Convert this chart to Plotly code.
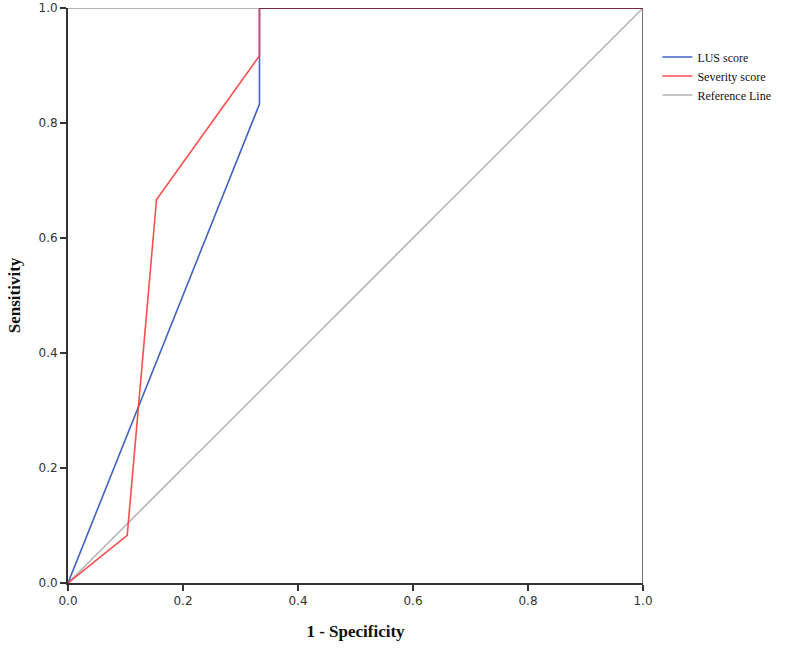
import plotly.graph_objects as go

# ROC curve data (1 - Specificity, Sensitivity)
lus_x = [0.0, 0.333, 0.333, 1.0]
lus_y = [0.0, 0.833, 1.0, 1.0]
sev_x = [0.0, 0.103, 0.154, 0.333, 0.333, 1.0]
sev_y = [0.0, 0.083, 0.667, 0.917, 1.0, 1.0]
ref_x = [0.0, 1.0]
ref_y = [0.0, 1.0]
tick_vals = [0.0, 0.2, 0.4, 0.6, 0.8, 1.0]
tick_text = ["0.0", "0.2", "0.4", "0.6", "0.8", "1.0"]

fig = go.Figure()
fig.add_trace(go.Scatter(x=ref_x, y=ref_y, mode="lines", name="Reference Line",
                         line=dict(color="#b0b0b0", width=1.5), showlegend=False))
fig.add_trace(go.Scatter(x=lus_x, y=lus_y, mode="lines", name="LUS score",
                         line=dict(color="#4462c4", width=1.6)))
fig.add_trace(go.Scatter(x=sev_x, y=sev_y, mode="lines", name="Severity score",
                         line=dict(color="#ff3b3b", width=1.6), opacity=0.9))
fig.add_trace(go.Scatter(x=[None], y=[None], mode="lines", name="Reference Line",
                         line=dict(color="#b0b0b0", width=1.5)))

# frame: top gray, right dark
fig.add_shape(type="line", xref="x", yref="y", x0=0, x1=1, y0=1, y1=1,
              line=dict(color="#999999", width=1.5), layer="below")
fig.add_shape(type="line", xref="x", yref="y", x0=1, x1=1, y0=0, y1=1,
              line=dict(color="#444444", width=1.5), layer="below")
# top segment where both curves overlap
fig.add_shape(type="line", xref="x", yref="y", x0=0.333, x1=1, y0=1, y1=1,
              line=dict(color="#7a2a3a", width=2), layer="above")

fig.update_layout(
    width=797, height=650,
    margin=dict(l=68, r=154, t=8, b=67, autoexpand=False),
    plot_bgcolor="white", paper_bgcolor="white",
    legend=dict(x=1.025, y=0.94, xanchor="left", yanchor="top",
                font=dict(family="Liberation Serif", size=12, color="#111"),
                tracegroupgap=0, itemwidth=30, bgcolor="rgba(0,0,0,0)"),
    xaxis=dict(range=[0, 1], tickvals=tick_vals, ticktext=tick_text, automargin=False,
               showgrid=False, zeroline=False, showline=True, linecolor="#333", linewidth=2,
               ticks="outside", ticklen=6, tickcolor="#333", tickwidth=1.5,
               tickfont=dict(family="DejaVu Sans", size=12, color="#333"),
               title=dict(text="<b>1 - Specificity</b>", standoff=18,
                          font=dict(family="Liberation Serif", size=17, color="#111"))),
    yaxis=dict(range=[0, 1], tickvals=tick_vals, ticktext=tick_text, automargin=False,
               showgrid=False, zeroline=False, showline=True, linecolor="#333", linewidth=2,
               ticks="outside", ticklen=6, tickcolor="#333", tickwidth=1.5,
               tickfont=dict(family="DejaVu Sans", size=12, color="#333"),
               title=dict(text="<b>Sensitivity</b>", standoff=14,
                          font=dict(family="Liberation Serif", size=17, color="#111"))),
)

fig.write_html("out.html")
